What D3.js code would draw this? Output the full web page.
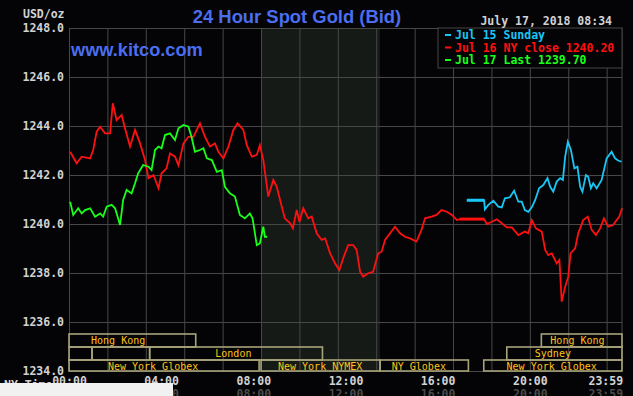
<html>
<body style="margin:0;background:#040406;">
<script src="https://d3js.org/d3.v7.min.js"></script>
<svg width="633" height="396"></svg>
<script type="text/javascript">
// ---- data (minutes after midnight, NY time) ----
var yTicks = [1234, 1236, 1238, 1240, 1242, 1244, 1246, 1248];
var xTicks = [0, 240, 480, 720, 960, 1200, 1439];
var xTickLabels = ["00:00", "04:00", "08:00", "12:00", "16:00", "20:00", "23:59"];

// Jul 16 (red)
var redTimes = [3, 20, 33, 55, 63, 72, 81, 94, 107, 114, 124, 137, 146, 159, 172, 185, 198, 207, 220, 233,
    241, 254, 263, 276, 285, 298, 311, 324, 341, 354, 367, 380, 389, 402, 415, 428, 439, 454, 463, 476,
    489, 497, 506, 519, 532, 541, 554, 562, 576, 583, 593, 600, 610, 623, 632, 645, 658, 667, 680, 693,
    704, 714, 727, 740, 749, 758, 766, 779, 792, 805, 814, 823, 836, 849, 862, 875, 888, 905, 918, 927,
    944, 957, 970, 984, 997, 1010, 1018, 1081, 1088, 1101, 1114, 1127, 1140, 1153, 1170, 1187, 1196, 1205, 1216, 1231,
    1240, 1248, 1257, 1270, 1277, 1283, 1292, 1300, 1306, 1318, 1326, 1339, 1351, 1361, 1372, 1383, 1393, 1404, 1417, 1426,
    1433, 1440];
var redValues = [1242.95, 1242.48, 1242.75, 1242.68, 1243.02, 1243.77, 1243.97, 1243.70, 1243.70, 1244.93,
    1244.24, 1244.45, 1243.90, 1243.16, 1243.84, 1243.29, 1242.61, 1241.87, 1242.00, 1241.46,
    1242.07, 1242.27, 1242.88, 1242.75, 1242.40, 1243.29, 1243.56, 1243.56, 1244.11, 1243.56,
    1243.16, 1243.29, 1242.95, 1242.68, 1243.16, 1243.84, 1244.11, 1243.84, 1243.22, 1242.75,
    1242.82, 1243.22, 1242.61, 1241.12, 1241.80, 1241.52, 1240.71, 1240.23, 1240.03, 1239.82,
    1240.57, 1240.09, 1240.64, 1240.23, 1240.30, 1239.62, 1239.35, 1239.41, 1238.80, 1238.39,
    1238.12, 1238.60, 1239.14, 1239.14, 1238.94, 1238.05, 1237.85, 1237.99, 1238.05, 1238.80,
    1238.87, 1239.35, 1239.62, 1239.89, 1239.62, 1239.48, 1239.41, 1239.28, 1239.76, 1240.23,
    1240.30, 1240.37, 1240.57, 1240.50, 1240.37, 1240.16, 1240.20, 1240.20, 1240.00, 1240.09,
    1240.19, 1240.03, 1239.86, 1239.86, 1239.55, 1239.69, 1239.62, 1240.16, 1239.82, 1239.69,
    1238.94, 1238.73, 1238.80, 1238.39, 1238.53, 1236.83, 1237.44, 1237.85, 1238.80, 1239.01,
    1239.62, 1240.16, 1240.30, 1239.76, 1239.55, 1239.82, 1240.23, 1239.89, 1239.96, 1240.16,
    1240.30, 1240.64];

// Jul 15 Sunday (cyan)
var blueTimes = [1036, 1081, 1083, 1092, 1105, 1118, 1127, 1135, 1148, 1159, 1170, 1179, 1187, 1196, 1205,
    1214, 1224, 1235, 1246, 1253, 1261, 1270, 1279, 1286, 1292, 1299, 1307, 1316, 1324, 1331,
    1337, 1346, 1352, 1359, 1365, 1374, 1387, 1400, 1413, 1422, 1430, 1439];
var blueValues = [1240.97, 1240.97, 1240.60, 1240.78, 1240.95, 1240.71, 1240.68, 1241.05, 1241.09, 1241.36,
    1240.91, 1240.91, 1240.57, 1240.50, 1240.68, 1240.98, 1241.46, 1241.59, 1241.87, 1241.52,
    1241.32, 1241.73, 1241.87, 1241.80, 1242.75, 1243.36, 1243.02, 1242.27, 1242.34, 1241.52,
    1241.32, 1242.00, 1241.93, 1241.46, 1241.66, 1241.46, 1241.80, 1242.68, 1242.95, 1242.68,
    1242.59, 1242.54];

// Jul 17 (green)
var greenTimes = [3, 11, 24, 33, 42, 55, 68, 81, 89, 98, 111, 120, 133, 141, 150, 163, 172, 180, 193, 207,
    215, 224, 233, 241, 250, 263, 276, 285, 298, 311, 319, 328, 341, 350, 359, 372, 385, 398, 406, 419,
    432, 445, 458, 471, 478, 489, 497, 506, 510, 516];
var greenValues = [1240.91, 1240.37, 1240.64, 1240.43, 1240.57, 1240.64, 1240.30, 1240.43, 1240.30, 1240.71,
    1240.78, 1240.64, 1239.96, 1240.98, 1241.39, 1241.25, 1241.66, 1242.07, 1242.41, 1242.34,
    1242.20, 1243.02, 1243.16, 1243.09, 1243.63, 1243.70, 1243.43, 1243.91, 1244.04, 1243.97,
    1243.56, 1242.95, 1243.02, 1243.09, 1242.68, 1242.61, 1242.13, 1242.20, 1241.52, 1241.25,
    1241.12, 1240.37, 1240.23, 1240.43, 1240.23, 1239.14, 1239.21, 1239.89, 1239.48, 1239.48];

// market sessions: row, start, end, label position
var sessionNames = ["Hong Kong", "", "", "London", "New York Globex", "New York NYMEX", "NY Globex",
    "Sydney", "Hong Kong", "New York Globex"];
var sessionRows = [0, 1, 1, 1, 2, 2, 2, 1, 0, 2];
var sessionStarts = [0, 0, 60, 210, 0, 500, 810, 1140, 1230, 1080];
var sessionEnds = [330, 60, 210, 660, 495, 810, 1040, 1440, 1440, 1440];
var sessionLabelAt = [128, 0, 0, 428, 219, 654, 911, 1260, 1324, 1257];

var legendLabels = ["Jul 15 Sunday", "Jul 16 NY close 1240.20", "Jul 17 Last 1239.70"];
var legendColors = ["#19c6f5", "#ff1010", "#19ff19"];

// ---- layout ----
var svg = d3.select("svg");
var pLeft = 69, pRight = 622, pTop = 28, pBottom = 371;
var mono = "'DejaVu Sans Mono', monospace";

var x = d3.scaleLinear().domain([0, 1440]).range([pLeft, pRight]);
var y = d3.scaleLinear().domain([1234, 1248]).range([pBottom, pTop]);

svg.append("rect").attr("width", 633).attr("height", 396).attr("fill", "#040406");

// NYMEX pit hours shading
svg.append("rect")
    .attr("x", x(500)).attr("y", pTop)
    .attr("width", x(810) - x(500)).attr("height", pBottom - pTop)
    .attr("fill", "#161a17");

// grid lines through the axes
svg.append("g")
    .attr("transform", "translate(" + pLeft + ",0)")
    .call(d3.axisLeft(y).tickValues(yTicks).tickSize(-(pRight - pLeft)).tickFormat(""))
    .call(function(g) {
        g.select(".domain").remove();
        g.selectAll("line").attr("stroke", "#474747");
    });
svg.append("g")
    .attr("transform", "translate(0," + pBottom + ")")
    .call(d3.axisBottom(x).ticks(12).tickSize(-(pBottom - pTop)).tickFormat(""))
    .call(function(g) {
        g.select(".domain").remove();
        g.selectAll("line").attr("stroke", "#474747");
    });
svg.append("line").attr("x1", pRight).attr("x2", pRight).attr("y1", pTop).attr("y2", pBottom).attr("stroke", "#474747");

// y tick labels
svg.append("g")
    .attr("transform", "translate(" + (pLeft - 5) + ",0)")
    .call(d3.axisLeft(y).tickValues(yTicks).tickSize(0).tickPadding(0).tickFormat(d3.format(".1f")))
    .call(function(g) {
        g.select(".domain").remove();
        g.selectAll("text").attr("fill", "#d2d2d2").style("font-family", mono)
            .style("font-size", "11.5px").style("font-weight", "bold");
    });

// x tick labels (two rows, the second one cut off by the frame)
[[6, "#d2d2d2"], [19, "#4a4a4a"]].forEach(function(r) {
    svg.append("g")
        .attr("transform", "translate(0," + (pBottom + r[0]) + ")")
        .call(d3.axisBottom(x).tickValues(xTicks).tickSize(0).tickPadding(0)
            .tickFormat(function(d, i) { return xTickLabels[i]; }))
        .call(function(g) {
            g.select(".domain").remove();
            g.selectAll("text").attr("fill", r[1]).style("font-family", mono)
                .style("font-size", "11.5px").style("font-weight", "bold")
                .attr("text-anchor", function(d, i) { return i == xTicks.length - 1 ? "end" : "middle"; })
                .attr("dx", function(d, i) { return i == xTicks.length - 1 ? 1 : 0; });
        });
});
svg.append("text").attr("x", 4).attr("y", 389).text("NY Time")
    .attr("fill", "#d2d2d2").style("font-family", mono).style("font-size", "11.5px").style("font-weight", "bold");
svg.append("rect").attr("x", 0).attr("y", 383).attr("width", 173).attr("height", 13).attr("fill", "#f1f1f1");

// sessions
var rowTop = [334, 347, 360];
var sess = svg.append("g");
sessionNames.forEach(function(name, i) {
    var r = sessionRows[i];
    sess.append("rect")
        .attr("x", x(sessionStarts[i])).attr("y", rowTop[r])
        .attr("width", x(sessionEnds[i]) - x(sessionStarts[i]))
        .attr("height", (r == 2 ? pBottom : rowTop[r + 1]) - rowTop[r])
        .attr("fill", "none").attr("stroke", "#a8a47a").attr("stroke-width", 1.6);
    if (name) {
        sess.append("text")
            .attr("x", x(sessionLabelAt[i])).attr("y", rowTop[r] + 10)
            .attr("text-anchor", "middle")
            .attr("fill", "#ffc21c").style("font-family", mono).style("font-size", "10px")
            .text(name);
    }
});

// price lines
function series(times, values) {
    return times.map(function(t, i) { return [t, values[i]]; });
}
var line = d3.line().x(function(d) { return x(d[0]); }).y(function(d) { return y(d[1]); });

var red = series(redTimes, redValues);
var blue = series(blueTimes, blueValues);
var green = series(greenTimes, greenValues);

svg.append("path").datum(red).attr("d", line)
    .attr("fill", "none").attr("stroke", legendColors[1]).attr("stroke-width", 1.8);
svg.append("path").datum(red.filter(function(d) { return d[0] >= 1018 && d[0] <= 1081; })).attr("d", line)
    .attr("fill", "none").attr("stroke", legendColors[1]).attr("stroke-width", 3);
svg.append("path").datum(blue).attr("d", line)
    .attr("fill", "none").attr("stroke", legendColors[0]).attr("stroke-width", 1.8);
svg.append("path").datum(blue.slice(0, 2)).attr("d", line)
    .attr("fill", "none").attr("stroke", legendColors[0]).attr("stroke-width", 3);
svg.append("path").datum(green).attr("d", line)
    .attr("fill", "none").attr("stroke", legendColors[2]).attr("stroke-width", 1.8);

// legend
svg.append("rect").attr("x", 438).attr("y", pTop).attr("width", pRight - 438).attr("height", 40)
    .attr("fill", "#040406").attr("stroke", "#474747");
legendLabels.forEach(function(t, i) {
    svg.append("rect").attr("x", 445).attr("y", 34 + i * 12.5).attr("width", 6).attr("height", 2)
        .attr("fill", legendColors[i]);
    svg.append("text").attr("x", 455).attr("y", 39 + i * 12.5)
        .attr("fill", legendColors[i]).style("font-family", mono)
        .style("font-size", "11.5px").style("font-weight", "bold")
        .text(t);
});

// titles
svg.append("text").attr("x", 297).attr("y", 23).attr("text-anchor", "middle")
    .attr("fill", "#4b6ef0").style("font-family", "'Liberation Sans', Arial, sans-serif")
    .style("font-size", "18.4px").style("font-weight", "bold")
    .text("24 Hour Spot Gold (Bid)");
svg.append("text").attr("x", 71).attr("y", 56)
    .attr("fill", "#4b6ef0").style("font-family", "'Liberation Sans', Arial, sans-serif")
    .style("font-size", "18.2px").style("font-weight", "bold")
    .text("www.kitco.com");
svg.append("text").attr("x", 612).attr("y", 25).attr("text-anchor", "end")
    .attr("fill", "#d2d2d2").style("font-family", mono).style("font-size", "11.5px").style("font-weight", "bold")
    .text("July 17, 2018 08:34");
svg.append("text").attr("x", 23).attr("y", 18)
    .attr("fill", "#d2d2d2").style("font-family", mono).style("font-size", "11.5px").style("font-weight", "bold")
    .text("USD/oz");
</script>
</body>
</html>
